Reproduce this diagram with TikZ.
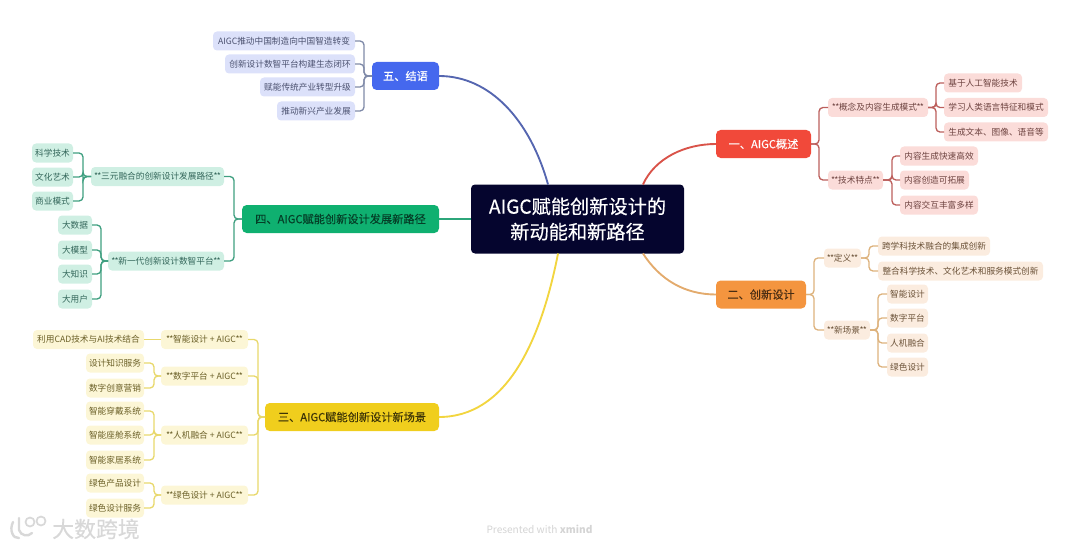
\documentclass[tikz,border=0pt]{standalone}
\usepackage{fontspec}
\setmainfont{Noto Sans CJK SC}
\newfontfamily\heavyf[FakeBold=0.35]{Noto Sans CJK SC}
\newfontfamily\midf[FakeBold=0.2]{Noto Sans CJK SC}
\newcommand{\dst}{*\kern-0.55pt*\kern-0.25pt}
\newcommand{\dsr}{\kern-0.25pt*\kern-0.55pt*}
\definecolor{ctrfill}{HTML}{05052E}
\definecolor{redm}{HTML}{F1493A}\definecolor{redl}{HTML}{FBDCD9}\definecolor{redc}{HTML}{BC5F5C}\definecolor{redt}{HTML}{6E4340}
\definecolor{orgm}{HTML}{F4953F}\definecolor{orgl}{HTML}{FBECDF}\definecolor{orgc}{HTML}{DDB27C}\definecolor{orgt}{HTML}{6B5238}
\definecolor{yelm}{HTML}{F0CE1D}\definecolor{yell}{HTML}{FCF6D6}\definecolor{yelc}{HTML}{E8D86C}\definecolor{yelt}{HTML}{6B6028}
\definecolor{grnm}{HTML}{0FB070}\definecolor{grnl}{HTML}{CFEFE3}\definecolor{grnc}{HTML}{3F9F80}\definecolor{grnt}{HTML}{33665A}
\definecolor{blum}{HTML}{4568EE}\definecolor{blul}{HTML}{DCE1FA}\definecolor{bluc}{HTML}{5566B0}\definecolor{blus}{HTML}{7F8AA8}\definecolor{blut}{HTML}{4C5270}
\definecolor{wm}{HTML}{D8D8D8}\definecolor{xm}{HTML}{D4D4D4}
\tikzset{
  boxw/.style={minimum width=#1*0.75pt},
  basebox/.style={inner sep=0pt,outer sep=0pt,align=center},
  center box/.style={basebox,fill=ctrfill,text=white,rounded corners=3pt,minimum height=69*0.75pt,font=\heavyf\fontsize{14.4pt}{19pt}\selectfont},
  mainbox/.style={basebox,rounded corners=3.5pt,minimum height=28*0.75pt,font=\midf\fontsize{8.4pt}{10pt}\selectfont},
  leafbox/.style={basebox,rounded corners=3pt,minimum height=19*0.75pt,font=\fontsize{6.5pt}{8pt}\selectfont},
  rm/.style={mainbox,fill=redm,text=white},   rl/.style={leafbox,fill=redl,text=redt},
  om/.style={mainbox,fill=orgm,text=black!70!orgm},   ol/.style={leafbox,fill=orgl,text=orgt},
  ym/.style={mainbox,fill=yelm,text=black!75!yelm},   yl/.style={leafbox,fill=yell,text=yelt},
  gm/.style={mainbox,fill=grnm,text=black!65!grnm},   gl/.style={leafbox,fill=grnl,text=grnt},
  bm/.style={mainbox,fill=blum,text=white},   bl/.style={leafbox,fill=blul,text=blut},
  conn/.style={line width=1pt,rounded corners=3pt},
  curve/.style={line width=1.4pt},
}
\begin{document}
\begin{tikzpicture}[x=0.75pt,y=-0.75pt]
\useasboundingbox (0,0) rectangle (1080,549);
% centre
\node[center box,boxw=213] (ctr) at (577.5,219) {AIGC赋能创新设计的\\新动能和新路径};
% branch 1
\node[rm,boxw=95] (m1) at (763.5,144) {一、AIGC概述};
\node[rl,boxw=100] (a1) at (878,107.5) {\dst 概念及内容生成模式\dsr};
\node[rl,boxw=55] (a2) at (855.5,180) {\dst 技术特点\dsr};
\node[rl,boxw=78] (a11) at (983,83) {基于人工智能技术};
\node[rl,boxw=104] (a12) at (996,107.5) {学习人类语言特征和模式};
\node[rl,boxw=104] (a13) at (996,132) {生成文本、图像、语音等};
\node[rl,boxw=78] (a21) at (939,156) {内容生成快速高效};
\node[rl,boxw=69] (a22) at (934.5,180) {内容创造可拓展};
\node[rl,boxw=78] (a23) at (939,205) {内容交互丰富多样};
% branch 2
\node[om,boxw=90] (m2) at (761,294.5) {二、创新设计};
\node[ol,boxw=37] (b1) at (842.5,258) {\dst 定义\dsr};
\node[ol,boxw=46] (b2) at (847,330) {\dst 新场景\dsr};
\node[ol,boxw=112] (b11) at (934,246) {跨学科技术融合的集成创新};
\node[ol,boxw=165] (b12) at (960.5,271) {整合科学技术、文化艺术和服务模式创新};
\node[ol,boxw=41] (b21) at (907.5,294) {智能设计};
\node[ol,boxw=41] (b22) at (907.5,318) {数字平台};
\node[ol,boxw=41] (b23) at (907.5,343) {人机融合};
\node[ol,boxw=41] (b24) at (907.5,367) {绿色设计};
% branch 3
\node[ym,boxw=174] (m3) at (352,417) {三、AIGC赋能创新设计新场景};
\node[yl,boxw=87] (c1) at (204.5,339.5) {\dst 智能设计 + AIGC\dsr};
\node[yl,boxw=87] (c2) at (204.5,376) {\dst 数字平台 + AIGC\dsr};
\node[yl,boxw=87] (c3) at (204.5,435) {\dst 人机融合 + AIGC\dsr};
\node[yl,boxw=87] (c4) at (204.5,495) {\dst 绿色设计 + AIGC\dsr};
\node[yl,boxw=111] (c11) at (88.5,339.5) {利用CAD技术与AI技术结合};
\node[yl,boxw=58] (c21) at (115,363) {设计知识服务};
\node[yl,boxw=58] (c22) at (115,388) {数字创意营销};
\node[yl,boxw=58] (c31) at (115,411) {智能穿戴系统};
\node[yl,boxw=58] (c32) at (115,435) {智能座舱系统};
\node[yl,boxw=58] (c33) at (115,460) {智能家居系统};
\node[yl,boxw=58] (c41) at (115,483) {绿色产品设计};
\node[yl,boxw=58] (c42) at (115,508) {绿色设计服务};
% branch 4
\node[gm,boxw=197] (m4) at (340.5,219) {四、AIGC赋能创新设计发展新路径};
\node[gl,boxw=133] (d1) at (157.5,176.5) {\dst 三元融合的创新设计发展路径\dsr};
\node[gl,boxw=116] (d2) at (166,261) {\dst 新一代创新设计数智平台\dsr};
\node[gl,boxw=41] (d11) at (52.5,153) {科学技术};
\node[gl,boxw=41] (d12) at (52.5,177) {文化艺术};
\node[gl,boxw=41] (d13) at (52.5,201) {商业模式};
\node[gl,boxw=34] (d21) at (75,225) {大数据};
\node[gl,boxw=34] (d22) at (75,250) {大模型};
\node[gl,boxw=34] (d23) at (75,274) {大知识};
\node[gl,boxw=34] (d24) at (75,299) {大用户};
% branch 5
\node[bm,boxw=67] (m5) at (405.5,76) {五、结语};
\node[bl,boxw=142] (e1) at (284,41) {AIGC推动中国制造向中国智造转变};
\node[bl,boxw=130] (e2) at (290,64) {创新设计数智平台构建生态闭环};
\node[bl,boxw=95] (e3) at (307.5,87) {赋能传统产业转型升级};
\node[bl,boxw=78] (e4) at (316,111) {推动新兴产业发展};
% main curves
\draw[curve,redm!55!redc] ([xshift=49.1pt]ctr.north) .. controls (655,158) and (685,144) .. (m1.west);
\draw[curve,orgc!75!orgm] ([xshift=49.1pt]ctr.south) .. controls (660,280) and (685,294.5) .. (m2.west);
\draw[curve,yelm!85!white] ([xshift=-14.6pt]ctr.south) .. controls (540,345) and (505,417) .. (m3.east);
\draw[curve,grnc!60!grnm] (ctr.west) -- (m4.east);
\draw[curve,bluc] ([xshift=-22.1pt]ctr.north) .. controls (530,120) and (490,76) .. (m5.east);
% connectors
\foreach \c in {a1,a2} \draw[conn,redc] (m1.east) -- ++(8,0) |- (\c.west);
\foreach \c in {a11,a12,a13} \draw[conn,redc] (a1.east) -- ++(8,0) |- (\c.west);
\foreach \c in {a21,a22,a23} \draw[conn,redc] (a2.east) -- ++(9,0) |- (\c.west);
\foreach \c in {b1,b2} \draw[conn,orgc] (m2.east) -- ++(8,0) |- (\c.west);
\foreach \c in {b11,b12} \draw[conn,orgc] (b1.east) -- ++(8,0) |- (\c.west);
\foreach \c in {b21,b22,b23,b24} \draw[conn,orgc] (b2.east) -- ++(8,0) |- (\c.west);
\foreach \c in {c1,c2,c3,c4} \draw[conn,yelc] (m3.west) -- ++(-7,0) |- (\c.east);
\draw[conn,yelc] (c1.west) -- (c11.east);
\foreach \c in {c21,c22} \draw[conn,yelc] (c2.west) -- ++(-7,0) |- (\c.east);
\foreach \c in {c31,c32,c33} \draw[conn,yelc] (c3.west) -- ++(-7,0) |- (\c.east);
\foreach \c in {c41,c42} \draw[conn,yelc] (c4.west) -- ++(-7,0) |- (\c.east);
\foreach \c in {d1,d2} \draw[conn,grnc] (m4.west) -- ++(-8,0) |- (\c.east);
\foreach \c in {d11,d12,d13} \draw[conn,grnc] (d1.west) -- ++(-8,0) |- (\c.east);
\foreach \c in {d21,d22,d23,d24} \draw[conn,grnc] (d2.west) -- ++(-7,0) |- (\c.east);
\foreach \c in {e1,e2,e3,e4} \draw[conn,blus] (m5.west) -- ++(-8,0) |- (\c.east);
% footer
\node[inner sep=0pt,text=xm,font=\fontsize{7.6pt}{9pt}\selectfont] (xm) at (539.5,529) {Presented with \textbf{xmind}};
\node[inner sep=0pt,text=wm,font=\heavyf\fontsize{16.4pt}{18pt}\selectfont] (wmk) at (96,529) {大数跨境};
\draw[wm,line width=1.8pt,line cap=round] (13,522) .. controls (9,530) and (13,539) .. (19,538);
\draw[wm,line width=1.8pt,line cap=round] (19,518) -- (19,530) .. controls (21,536) and (28,537) .. (32,533);
\draw[wm,line width=1.3pt] (30,522) circle (4.5);
\draw[wm,line width=1.3pt] (41,521) circle (4.5);
\end{tikzpicture}
\end{document}
